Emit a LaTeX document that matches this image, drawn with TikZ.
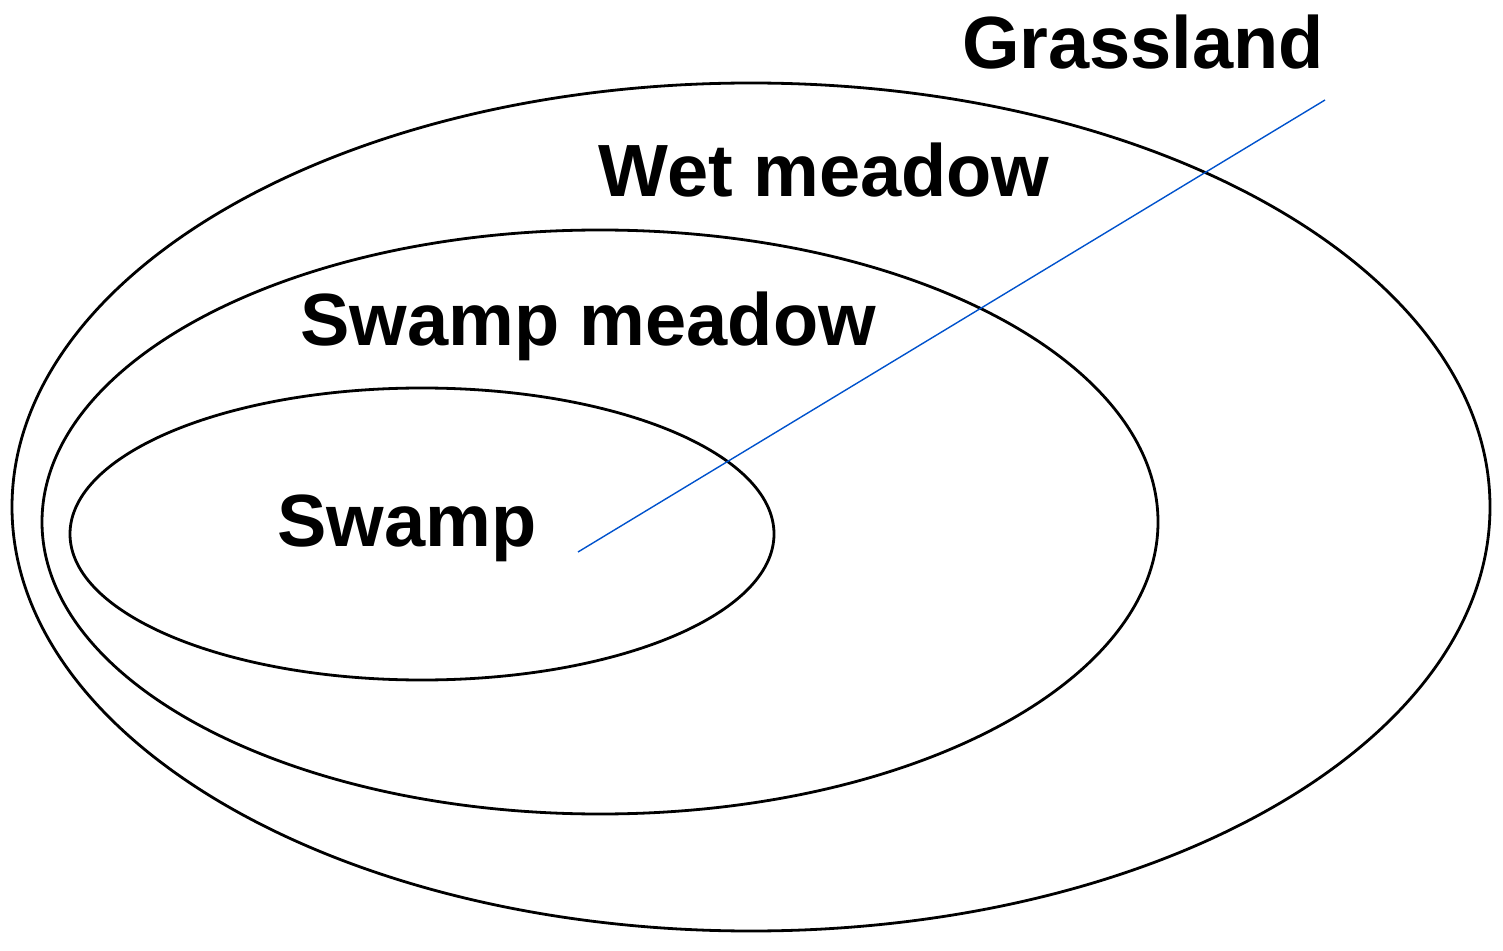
\documentclass[tikz,border=0pt]{standalone}
\usepackage{fontspec}
\setmainfont{Liberation Sans}
\begin{document}
\begin{tikzpicture}[x=0.5pt,y=-0.5pt,
  ring/.style={draw=black,line width=1.4pt},
  lab/.style={font=\fontsize{37}{40}\selectfont\bfseries,inner sep=0pt}]
\useasboundingbox (0,0) rectangle (1503,951);
\draw[ring] (751,507) ellipse [x radius=739, y radius=424];
\draw[ring] (600,522) ellipse [x radius=558, y radius=292];
\draw[ring] (422,534) ellipse [x radius=352, y radius=146];
\coordinate (s) at (578,552);
\coordinate (e) at (1325,100);
\draw[blue!60!cyan!80!black,line width=0.7pt] (s) -- (e);
\node[lab] (g) at (1143,42) {Grassland};
\node[lab] (w) at (824,170) {Wet meadow};
\node[lab] (sm) at (588,326) {Swamp meadow};
\node[lab] (sw) at (407,528) {Swamp};
\end{tikzpicture}
\end{document}
